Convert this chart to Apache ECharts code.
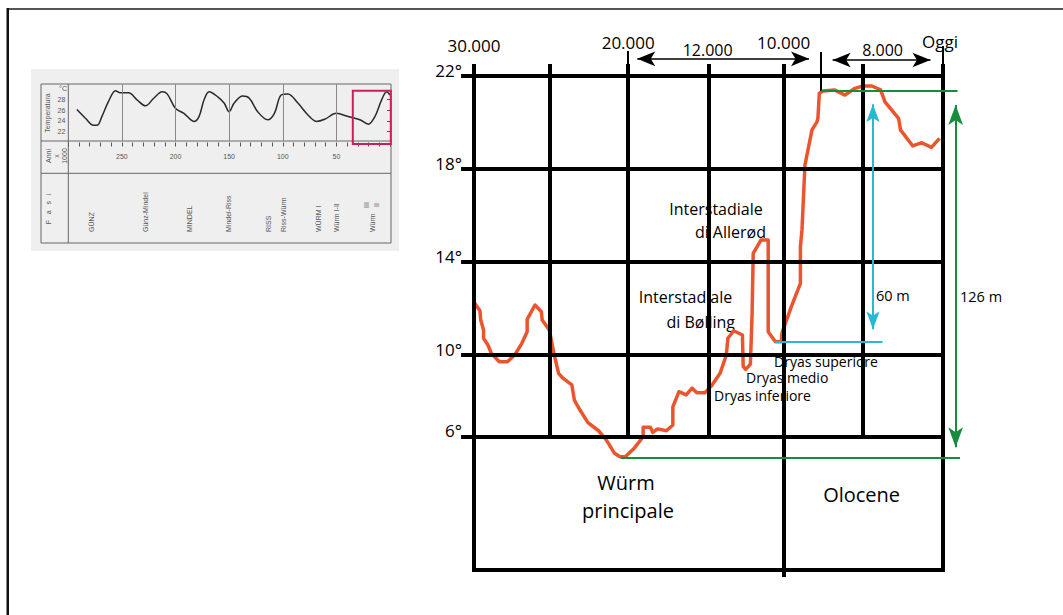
<!DOCTYPE html>
<html><head><meta charset="utf-8">
<script src="https://cdn.jsdelivr.net/npm/echarts@6.0.0/dist/echarts.min.js"></script>
<style>html,body{margin:0;padding:0;background:#fff;overflow:hidden}#c{width:1063px;height:615px}</style>
</head><body><div id="c"></div>
<script>
// ---- main chart: years before present / temperature (°C) ----
const years = [-29980,-29620,-29570,-29390,-29390,-29110,-28890,-28380,-27860,-27400,-26940,-26600,-26600,-26100,-25690,-25640,-25180,-24890,-24590,-24310,-23740,-23580,-23220,-22710,-22030,-21530,-21010,-20660,-20320,-19750,-19180,-19180,-18720,-18560,-18260,-17690,-17280,-17280,-16890,-16430,-16050,-15750,-15220,-14770,-14260,-13860,-13760,-13390,-12830,-12780,-12620,-12320,-12210,-12140,-11640,-11180,-11180,-10720,-10340,-10300,-9700,-9120,-9120,-9020,-8830,-8380,-8060,-8000,-7910,-7680,-6950,-6270,-5630,-5120,-4550,-3990,-3710,-2840,-2720,-1930,-1360,-740,-220];
const temps = [12.25,11.90,11.50,11.07,10.72,10.43,10.07,9.71,9.71,10.00,10.50,11.00,11.53,12.15,11.86,11.50,11.07,10.07,9.21,9.00,8.71,8.06,7.63,7.09,6.74,6.34,5.77,5.62,5.62,5.99,6.48,6.89,6.89,6.67,6.82,6.74,6.99,7.77,8.42,8.28,8.57,8.38,8.38,8.71,9.21,10.00,10.72,11.04,10.86,9.50,9.38,9.61,11.79,14.37,14.95,14.95,11.00,10.57,10.57,10.95,12.08,13.08,14.66,15.38,18.17,19.68,20.03,20.19,21.26,21.35,21.40,21.18,21.47,21.57,21.57,21.40,20.89,20.18,19.68,18.99,19.13,18.93,19.32];
// vertical grid lines as drawn in the picture (years before present)
const gridYears = [-30000,-25165,-20137,-14994,-10196,-5124,0];
const timeLabelIdx = [0,2,4,6];
const timeLabels = ['30.000','20.000','10.000','Oggi'];
const tempLines = [22,18,14,10,6.5];
const tempLabels = ['22°','18°','14°','10°','6°'];
const boxBottom = 0.75;
const spanBreaks = [-20137,-7800,0];
const spanLabels = ['12.000','8.000'];
const holoceneTemp = 21.35;   // green top level
const lgmTemp = 5.60;         // green bottom level
const dryasTemp = 10.57;      // cyan level
const seaLabels = ['60 m','126 m'];

// ---- inset: Anni x 1000 / Temperatura ----
const insetKyr = [292,284,276.5,273,268.7,262.5,256,251.5,243.7,235.9,228,220.3,212.4,207.8,200,192.2,182.8,178.1,173.4,168.7,160.9,154.7,150,145.3,137.4,131.2,123.4,114,107.8,101.5,95.2,85.9,76.5,68.7,60.9,50,39,28.1,20.2,14.1,7.8,3.1,0];
const insetTemp = [26.1,24.5,23.2,23.2,24.8,27.6,29.6,29.2,29.2,27.9,26.8,28.2,29.4,29.0,26.3,25.4,23.9,24.8,27.9,29.4,28.5,27.3,25.7,27.3,28.6,28.2,25.7,24.2,25.4,28.8,29.0,27.3,25.1,23.9,24.3,25.4,24.8,24.2,23.4,24.8,27.9,29.4,28.8];
const insetGridKyr = [250,200,150,100,50];
const insetTempTicks = [22,24,26,28];
const insetPhases = ['GÜNZ','Günz-Mindel','MINDEL','Mindel-Riss','RISS','Riss-Würm','WÜRM I','Würm I-II','Würm'];
const insetPhaseKyr = [278,228,187,151,113,99,67,50,16];

const FONT = '"Open Sans", sans-serif';
const ORANGE = '#EB552D', GREEN = '#178C3C', CYAN = '#29B7D3';

const thick = {color:'#000', width:4, type:'solid', cap:'square'};
const thin = {color:'#000', width:2, type:'solid'};
const ml = [];
function seg(a, b, style, extraA, extraB) {
  ml.push([Object.assign({coord:a, lineStyle:style, symbol:'none'}, extraA||{}), Object.assign({coord:b, symbol:'none'}, extraB||{})]);
}
// horizontal grid lines
tempLines.forEach(v => seg([-30700, v], [0, v], thick));
seg([-30000, boxBottom], [0, boxBottom], thick);
// vertical grid lines
gridYears.forEach((t, i) => {
  const bottom = (i === 0 || i === 6) ? boxBottom : (i === 4 ? 0.53 : tempLines[4]);
  seg([t, 22.43], [t, bottom], thick);
});
// thin extensions / tick for span arrows
seg([spanBreaks[0], 23.08], [spanBreaks[0], 22.43], thin);
seg([spanBreaks[2], 23.29], [spanBreaks[2], 22.43], thin);
seg([spanBreaks[1], 23.03], [spanBreaks[1], holoceneTemp], thin);
// span arrows
const arrowB = {symbol:'arrow', symbolSize:[11,18]};
seg([spanBreaks[0] + 580, 22.74], [spanBreaks[1] - 770, 22.74], {color:'#000', width:1.5, type:'solid'}, arrowB, arrowB);
seg([spanBreaks[1] + 740, 22.69], [spanBreaks[2] - 800, 22.69], {color:'#000', width:1.5, type:'solid'}, arrowB, arrowB);

const mlColor = [];
function seg2(a, b, style, extraA, extraB) {
  mlColor.push([Object.assign({coord:a, lineStyle:style, symbol:'none'}, extraA||{}), Object.assign({coord:b, symbol:'none'}, extraB||{})]);
}
const gStyle = {color:GREEN, width:2, type:'solid'};
const cStyle = {color:CYAN, width:2, type:'solid'};
seg2([spanBreaks[1], holoceneTemp], [930, holoceneTemp], gStyle);
seg2([-20610, lgmTemp], [1090, lgmTemp], gStyle);
const arrowG = {symbol:'arrow', symbolSize:[11,20]};
seg2([810, 20.75], [810, lgmTemp + 0.43], gStyle, arrowG, arrowG);
seg2([-10750, dryasTemp], [-3870, dryasTemp], cStyle);
const arrowC = {symbol:'arrow', symbolSize:[10,18]};
seg2([-4480, 20.79], [-4480, 11.11], cStyle, arrowC, arrowC);

const insetMl = insetGridKyr.map(k => [{coord:[k, 20.28], symbol:'none'}, {coord:[k, 30.83], symbol:'none'}]);

const option = {
  animation: false,
  backgroundColor: '#fff',
  grid: [
    {left: 427.1, top: 29.506, width: 578.42, height: 557.93, outerBoundsMode: 'none', containLabel: false},
    {left: 68.3, top: 83.1, width: 321.7, height: 59.4, outerBoundsMode: 'none', containLabel: false}
  ],
  xAxis: [
    {type:'value', gridIndex:0, min:-33000, max:4000, show:false},
    {type:'value', gridIndex:1, min:0, max:300, interval:10, inverse:true,
     axisLine:{show:false}, splitLine:{show:false},
     axisTick:{show:true, length:4, lineStyle:{color:'#555', width:1}},
     axisLabel:{show:true, margin:10, fontSize:7, color:'#555', fontFamily:'"Liberation Sans", sans-serif',
       formatter: v => (v % 50 === 0 && v > 0 && v < 300) ? String(v) : ''}}
  ],
  yAxis: [
    {type:'value', gridIndex:0, min:0, max:24, show:false},
    {type:'value', gridIndex:1, min:20, max:31, interval:2,
     axisLine:{show:false}, splitLine:{show:false},
     axisTick:{show:true, length:3, customValues: insetTempTicks, lineStyle:{color:'#555', width:1}},
     axisLabel:{show:true, margin:3, fontSize:7, color:'#555', fontFamily:'"Liberation Sans", sans-serif',
       customValues: insetTempTicks,
       formatter: v => (v >= 22 && v <= 28) ? String(v) : ''}}
  ],
  series: [
    {type:'line', xAxisIndex:0, yAxisIndex:0, data:[], silent:true, z:3,
     markLine:{silent:true, animation:false, label:{show:false}, emphasis:{disabled:true}, data: ml}},
    {type:'line', xAxisIndex:0, yAxisIndex:0, name:'Temperatura', z:4,
     data: years.map((y, i) => [y, temps[i]]), symbol:'none', clip:false, silent:true,
     lineStyle:{color:ORANGE, width:3.5, join:'round'}},
    {type:'line', xAxisIndex:0, yAxisIndex:0, data:[], silent:true, z:5,
     markLine:{silent:true, animation:false, label:{show:false}, emphasis:{disabled:true}, data: mlColor}},
    {type:'line', xAxisIndex:1, yAxisIndex:1, data: insetKyr.map((k, i) => [k, insetTemp[i]]),
     symbol:'none', smooth:0.35, silent:true, z:4, lineStyle:{color:'#2a2a2a', width:1.5},
     markLine:{silent:true, animation:false, label:{show:false}, emphasis:{disabled:true},
       lineStyle:{color:'#888', width:1, type:'solid'}, data: insetMl}}
  ]
};

const chart = echarts.init(document.getElementById('c'), null, {renderer:'svg'});
chart.setOption(option);

const P = (g, x, y) => chart.convertToPixel({gridIndex:g}, [x, y]);
const els = [];
function txt(x, y, s, size, align, extra) {
  els.push(Object.assign({type:'text', x:x, y:y, z:1, silent:true,
    style:{text:s, fontSize:size, fontFamily:FONT, fill:'#000', align:align||'center', verticalAlign:'middle'}}, extra||{}));
}
function small(x, y, s, rot, align) {
  els.push({type:'text', x:x, y:y, rotation: rot ? Math.PI/2 : 0, z:3, silent:true,
    style:{text:s, fontSize:7, fontFamily:'"Liberation Sans", sans-serif', fill:'#555', align:align||'center', verticalAlign:'middle'}});
}
function line(x1, y1, x2, y2, color, w, z) {
  els.push({type:'line', z:z||2, silent:true, shape:{x1, y1, x2, y2}, style:{stroke:color, lineWidth:w}});
}

// page frame
els.push({type:'rect', z:0, silent:true, shape:{x:7, y:8, width:1060, height:2}, style:{fill:'#555'}});
els.push({type:'rect', z:0, silent:true, shape:{x:6.5, y:8, width:2.5, height:610}, style:{fill:'#111'}});

// inset background + frame
els.push({type:'rect', z:0, silent:true, shape:{x:31, y:69, width:368, height:182}, style:{fill:'#efefef'}});
els.push({type:'rect', z:2, silent:true, shape:{x:41, y:84, width:350, height:159}, style:{fill:'none', stroke:'#666', lineWidth:1}});
line(68.3, 84, 68.3, 243, '#666', 1);
line(41, 141, 391, 141, '#666', 1);
line(41, 173.3, 391, 173.3, '#666', 1);
small(63, 88, '°C');
small(47.3, 113, 'Temperatura', true);
small(48.3, 156, 'Anni', true);
small(56.7, 156, 'x', true);
small(64.3, 156, '1000', true);
small(48.3, 209, 'F   a   s   i', true);
insetPhases.forEach((p, i) => {
  const px = P(1, insetPhaseKyr[i], 25)[0];
  small(px, 232, p, true, 'left');
});
small(366.5, 205, 'III', true);
small(376.5, 205, 'II', true);
els.push({type:'rect', z:5, silent:true, shape:{x:352.8, y:90.7, width:38, height:53.3}, style:{fill:'none', stroke:'#CC1F5A', lineWidth:2}});

// main axis labels from the scale
const xLabelY = [45, 42, 42, 41];
timeLabelIdx.forEach((gi, i) => {
  const px = P(0, gridYears[gi], 22)[0];
  txt(i === 3 ? px - 3 : px, xLabelY[i], timeLabels[i], 17, 'center');
});
tempLines.forEach((v, i) => {
  const py = P(0, -30000, v)[1];
  txt(462, py - 5.5, tempLabels[i], 17, 'right');
});
// span labels
txt((P(0, spanBreaks[0], 0)[0] + P(0, spanBreaks[1], 0)[0]) / 2 - 17, 50, spanLabels[0], 16, 'center');
txt((P(0, spanBreaks[1], 0)[0] + P(0, spanBreaks[2], 0)[0]) / 2 + 0.5, 50, spanLabels[1], 16, 'center');

// annotations
txt(716, 209, 'Interstadiale', 16, 'center');
txt(766, 232, 'di Allerød', 16, 'right');
txt(685.5, 297, 'Interstadiale', 16, 'center');
txt(735, 322, 'di Bølling', 16, 'right');
txt(774, 361, 'Dryas superiore', 14, 'left');
txt(746, 377.5, 'Dryas medio', 14, 'left');
txt(714, 395.5, 'Dryas inferiore', 14, 'left');
txt(876, 295, seaLabels[0], 14.5, 'left');
txt(960, 296, seaLabels[1], 14.5, 'left');
txt(626, 482, 'Würm', 20, 'center');
txt(628, 510, 'principale', 20, 'center');
txt(861.6, 494, 'Olocene', 20, 'center');

chart.setOption({graphic:{elements: els}});
</script></body></html>
